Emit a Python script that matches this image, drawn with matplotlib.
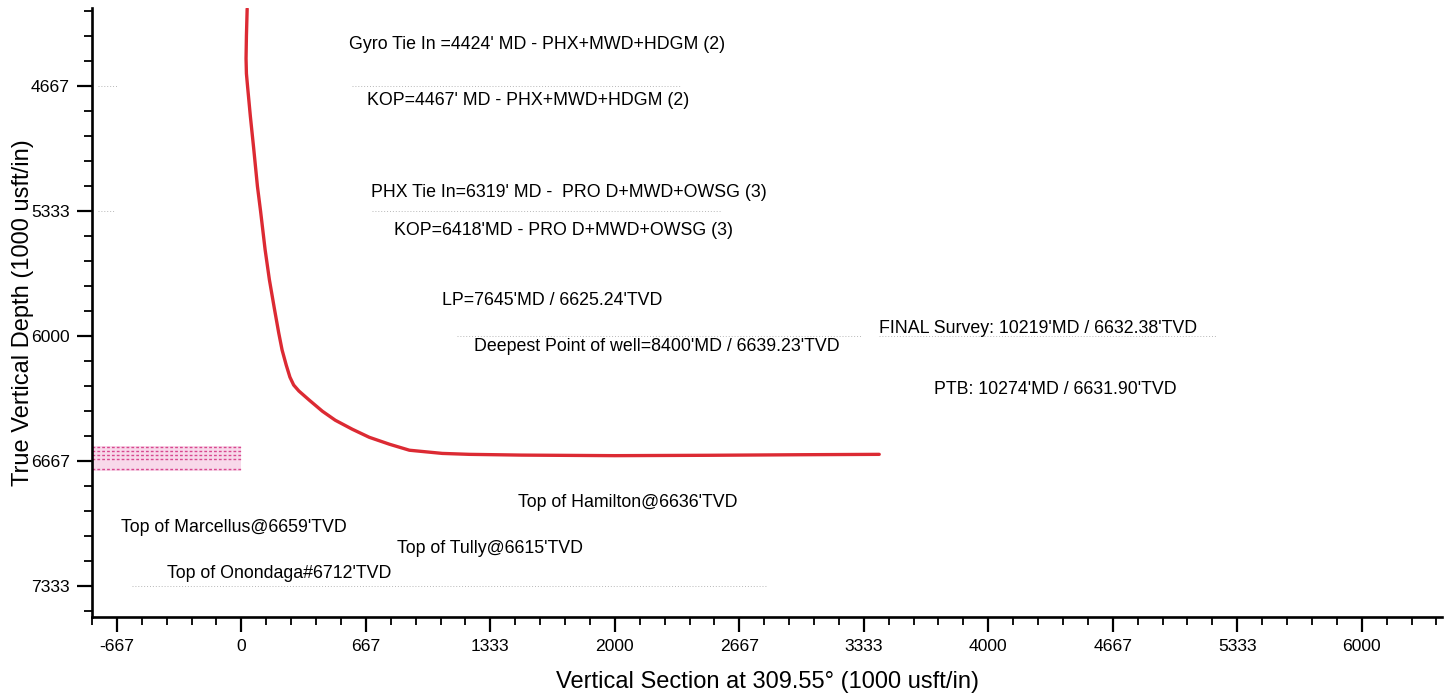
import numpy as np
import matplotlib.pyplot as plt
from matplotlib.ticker import FixedLocator, MultipleLocator

plt.rcParams['font.family'] = ['Liberation Sans', 'DejaVu Sans']

# well path: vertical section (usft) vs true vertical depth (usft)
vs = [31, 27, 25, 27, 33, 48, 66, 86, 103, 127, 150, 176, 200, 218, 240,
      260, 280, 308, 364, 434, 503, 594, 685, 793, 900, 1076, 1221, 1500,
      2000, 2500, 3000, 3416]
tvd = [4254, 4400, 4520, 4600, 4667, 4827, 5000, 5202, 5336, 5539, 5700,
       5850, 5984, 6075, 6155, 6220, 6262, 6294, 6343, 6402, 6450, 6498,
       6541, 6578, 6610, 6627, 6632, 6636, 6639, 6637, 6634, 6632]

# formation tops (TVD) shown as the pink target window left of the origin
tops_tvd = [6595, 6615, 6636, 6659, 6712]
window_tvd = [6590, 6720]

x_ticks = [-667, 0, 667, 1333, 2000, 2667, 3333, 4000, 4667, 5333, 6000]
y_ticks = [4667, 5333, 6000, 6667, 7333]

notes = [
    "Gyro Tie In =4424' MD - PHX+MWD+HDGM (2)",
    "KOP=4467' MD - PHX+MWD+HDGM (2)",
    "PHX Tie In=6319' MD -  PRO D+MWD+OWSG (3)",
    "KOP=6418'MD - PRO D+MWD+OWSG (3)",
    "LP=7645'MD / 6625.24'TVD",
    "Deepest Point of well=8400'MD / 6639.23'TVD",
    "FINAL Survey: 10219'MD / 6632.38'TVD",
    "PTB: 10274'MD / 6631.90'TVD",
    "Top of Hamilton@6636'TVD",
    "Top of Marcellus@6659'TVD",
    "Top of Tully@6615'TVD",
    "Top of Onondaga#6712'TVD",
]
note_x = [578, 675, 696, 819, 1077, 1248, 3416, 3711, 1483, -643, 835, -396]
note_y = [4447, 4741, 5234, 5437, 5812, 6059, 5963, 6284, 6891, 7020, 7133, 7267]

fig = plt.figure(figsize=(14.47, 6.97), dpi=100)
ax = fig.add_axes([92 / 1447, 80 / 697, 1350 / 1447, 609 / 697])

# faint grid remnants from the scan
faint = [(4667, -766, -664), (4667, 595, 2350), (5333, -766, -680),
         (5333, 701, 2576), (6000, 1157, 3325), (6000, 3416, 5226),
         (7333, -584, 2817)]
for yv, x0, x1 in faint:
    ax.plot([x0, x1], [yv, yv], ls=(0, (1, 2)), color='#888888', lw=0.7, alpha=0.6)

ax.fill_between([-800, 0], window_tvd[0], window_tvd[1], color='#f8d9ea', lw=0)
for t in tops_tvd:
    ax.plot([-800, 0], [t, t], ls=(0, (2, 1.5)), color='#d8488f', lw=1.0)

ax.plot(vs, tvd, color='#dc2a33', lw=2.4, solid_capstyle='round',
        solid_joinstyle='round')

for s, x, y in zip(notes, note_x, note_y):
    ax.text(x, y, s, fontsize=12.8, ha='left', va='center', color='#000000')

ax.set_xlim(-800, 6430)
ax.set_ylim(7500, 4250)

ax.xaxis.set_major_locator(FixedLocator(x_ticks))
ax.yaxis.set_major_locator(FixedLocator(y_ticks))
ax.xaxis.set_minor_locator(MultipleLocator(2000 / 15))
ax.yaxis.set_minor_locator(MultipleLocator(2000 / 15))
ax.set_xticklabels([str(v) for v in x_ticks])
ax.set_yticklabels([str(v) for v in y_ticks])
ax.tick_params(which='major', length=11, width=1.6, labelsize=12.6, pad=5)
ax.tick_params(which='minor', length=6, width=1.3)

for side in ['top', 'right']:
    ax.spines[side].set_visible(False)
for side in ['left', 'bottom']:
    ax.spines[side].set_linewidth(1.9)

ax.set_xlabel('Vertical Section at 309.55\u00b0 (1000 usft/in)', fontsize=17, labelpad=12)
ax.set_ylabel('True Vertical Depth (1000 usft/in)', fontsize=17, labelpad=-2)

fig.savefig('out.png', dpi=100)
